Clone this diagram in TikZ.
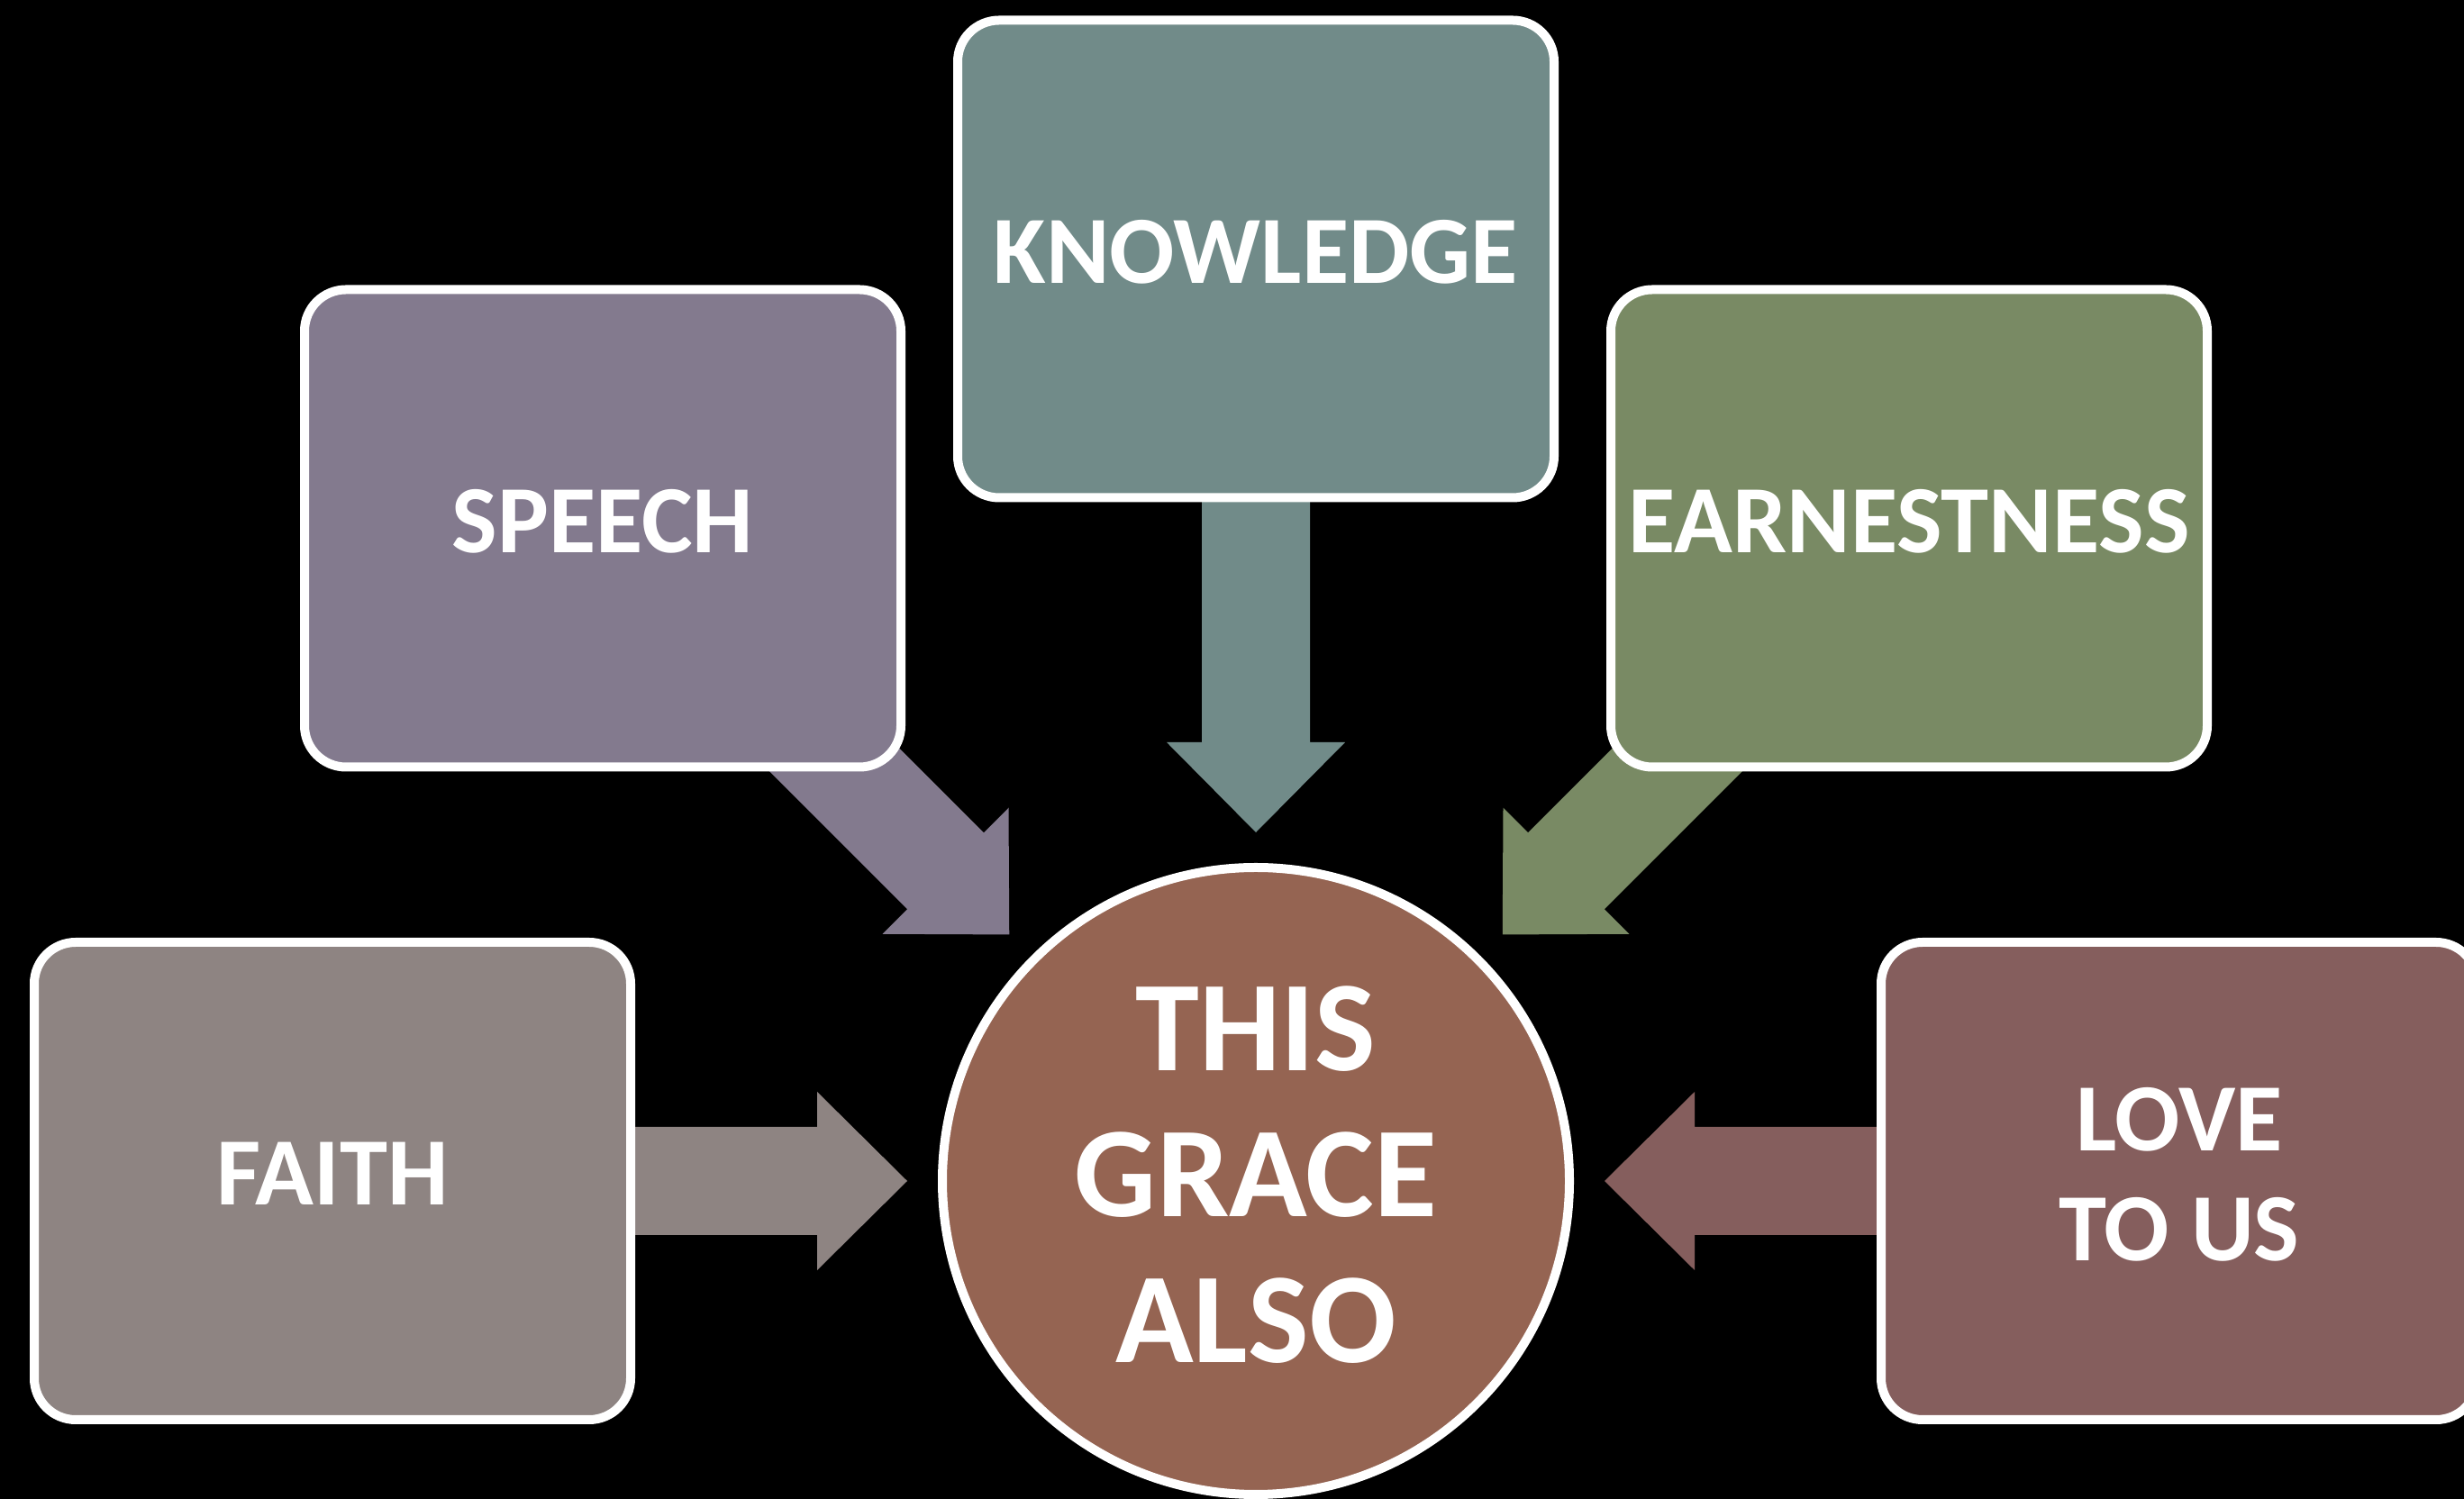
\documentclass[tikz,border=0pt]{standalone}
\usepackage{fontspec}
\setmainfont{Carlito}
\usetikzlibrary{calc}
\pgfdeclarelayer{back}
\pgfdeclarelayer{arrows}
\pgfsetlayers{back,arrows,main}
\definecolor{knowcol}{HTML}{718B89}
\definecolor{speechcol}{HTML}{837A8E}
\definecolor{earncol}{HTML}{798A64}
\definecolor{faithcol}{HTML}{8E8482}
\definecolor{lovecol}{HTML}{855E5D}
\definecolor{gracecol}{HTML}{956452}
% block arrow from a box (#1) to a tip (#2), colour #3
\newcommand{\flowarrow}[3]{%
  \coordinate (#2-h) at ($(#2)!\headlen!(#1)$);
  \fill[#3] ($(#1)!\shaft!90:(#2)$) -- ($(#2-h)!\shaft!90:(#2)$) -- ($(#2-h)!\head!90:(#2)$) -- (#2)
    -- ($(#2-h)!\head!-90:(#2)$) -- ($(#2-h)!\shaft!-90:(#2)$) -- ($(#1)!\shaft!-90:(#2)$) -- cycle;
}
\begin{document}
\begin{tikzpicture}[x=1pt, y=1pt, line join=round]
	\tikzset{box/.style={draw=white, line width=10pt, rounded corners=46pt, minimum width=662pt, minimum height=530pt, inner sep=0pt, align=center, text=white, text depth=16pt, font=\fontsize{107}{122}\selectfont\bfseries},
		hub/.style={circle, draw=white, line width=10pt, fill=gracecol, minimum size=696pt, inner sep=0pt, align=center, text=white, text depth=14pt, font=\fontsize{143}{162}\selectfont\bfseries}}
	\def\xmax{2735}\def\ymax{1664}
	\def\shaft{60pt}\def\head{99pt}\def\headlen{100pt}\def\gap{387pt}
	\useasboundingbox (0,0) rectangle (\xmax,\ymax);
	\begin{pgfonlayer}{back}
		\fill[black] (0,0) rectangle (\xmax,\ymax);
	\end{pgfonlayer}
	%Hinh tron giua
	\node[hub] (grace) at (1394,353) {THIS\\GRACE\\ALSO};
	%Cac o xung quanh
	\node[box, fill=knowcol] (knowledge) at (1394,1376.5) {KNOWLEDGE};
	\node[box, fill=speechcol] (speech) at (669,1077.5) {SPEECH};
	\node[box, fill=earncol] (earnest) at (2119,1077.5) {EARNESTNESS};
	\node[box, fill=faithcol] (faith) at (369,353) {FAITH};
	\node[box, fill=lovecol] (love) at (2419,353) {LOVE\\TO US};
	%Mui ten
	\foreach \b/\t in {knowledge/tk, speech/ts, earnest/te, faith/tf, love/tl}
		\coordinate (\t) at ($(grace)!\gap!(\b)$);
	\begin{pgfonlayer}{arrows}
		\flowarrow{knowledge}{tk}{knowcol}
		\flowarrow{speech}{ts}{speechcol}
		\flowarrow{earnest}{te}{earncol}
		\flowarrow{faith}{tf}{faithcol}
		\flowarrow{love}{tl}{lovecol}
	\end{pgfonlayer}
\end{tikzpicture}
\end{document}
